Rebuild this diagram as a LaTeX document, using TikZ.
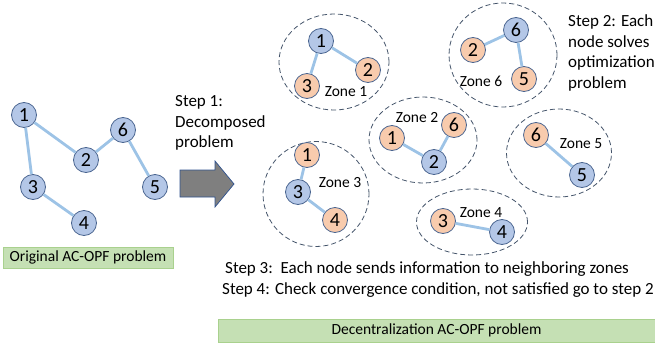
\documentclass[tikz,border=0pt]{standalone}
\usepackage{fontspec}
\setmainfont{Carlito}
\usetikzlibrary{shapes.geometric}
\definecolor{nodeblue}{HTML}{B4C7E7}
\definecolor{nodeorange}{HTML}{F8CBAD}
\definecolor{nodeborder}{HTML}{4A6590}
\definecolor{edgeblue}{HTML}{9DC3E6}
\definecolor{zoneline}{HTML}{44546A}
\definecolor{boxgreen}{HTML}{C5E0B4}
\definecolor{boxgreenline}{HTML}{A9D18E}
\definecolor{arrowgray}{HTML}{7F7F7F}
\definecolor{arrowline}{HTML}{2F528F}
\begin{document}
\begin{tikzpicture}[x=1pt,y=-1pt,
  bus/.style={circle, draw=nodeborder, line width=0.8pt, minimum size=25pt, inner sep=0pt, font=\fontsize{20}{20}\selectfont},
  bb/.style={bus, fill=nodeblue},
  ob/.style={bus, fill=nodeorange},
  link/.style={draw=edgeblue, line width=2.8pt},
  zone/.style={ellipse, draw=zoneline, line width=0.8pt, dash pattern=on 5pt off 3pt, inner sep=0pt},
  lbl/.style={inner sep=0pt, font=\fontsize{17}{20.5}\selectfont},
  zlbl/.style={inner sep=0pt, font=\fontsize{15.5}{18}\selectfont},
  greenbox/.style={draw=boxgreenline, fill=boxgreen, line width=0.6pt, inner sep=0pt, font=\fontsize{15.5}{18}\selectfont}
]
\useasboundingbox (0,0) rectangle (655,350);

% ---------- original network ----------
\node[bb] (o1) at (24,115) {1};
\node[bb] (o2) at (86,160) {2};
\node[bb] (o3) at (33,187) {3};
\node[bb] (o4) at (84,223) {4};
\node[bb] (o5) at (155,187) {5};
\node[bb] (o6) at (123,130) {6};
\draw[link] (o1) -- (o2);
\draw[link] (o1) -- (o3);
\draw[link] (o3) -- (o4);
\draw[link] (o2) -- (o6);
\draw[link] (o6) -- (o5);

\node[greenbox, minimum width=170pt, minimum height=21pt] (orig) at (88,257.5) {Original AC-OPF problem};

% ---------- step 1 and arrow ----------
\node[lbl, align=left, anchor=west] (s1) at (175,123) {Step 1:\\Decomposed\\problem};
\draw[fill=arrowgray, draw=arrowline, line width=0.7pt]
  (180,170) -- (215,170) -- (215,161) -- (234,184) -- (215,207) -- (215,197) -- (180,197) -- cycle;

% ---------- zones ----------
\node[zone, minimum width=110pt, minimum height=96pt] (z1) at (334,62) {};
\node[zone, minimum width=108pt, minimum height=104pt] (z6) at (503,55) {};
\node[zone, minimum width=108pt, minimum height=86pt] (z2) at (423,140) {};
\node[zone, minimum width=106pt, minimum height=105pt] (z3) at (316,194) {};
\node[zone, minimum width=105pt, minimum height=88pt] (z5) at (559,153) {};
\node[zone, minimum width=111pt, minimum height=66pt] (z4) at (472,222) {};

% Zone 1
\node[bb] (z1n1) at (321,41) {1};
\node[ob] (z1n2) at (368,70) {2};
\node[ob] (z1n3) at (307,86) {3};
\draw[link] (z1n1) -- (z1n2);
\draw[link] (z1n1) -- (z1n3);
\node[zlbl] (z1l) at (346,92) {Zone 1};

% Zone 6
\node[bb] (z6n6) at (516,30) {6};
\node[ob] (z6n2) at (473,50) {2};
\node[ob] (z6n5) at (524,79) {5};
\draw[link] (z6n6) -- (z6n2);
\draw[link] (z6n6) -- (z6n5);
\node[zlbl] (z6l) at (481,81) {Zone 6};

% Zone 2
\node[ob] (z2n1) at (392,138) {1};
\node[bb] (z2n2) at (434,162) {2};
\node[ob] (z2n6) at (454,125) {6};
\draw[link] (z2n2) -- (z2n1);
\draw[link] (z2n2) -- (z2n6);
\node[zlbl] (z2l) at (417,118) {Zone 2};

% Zone 3
\node[ob] (z3n1) at (307,155) {1};
\node[bb] (z3n3) at (298,192) {3};
\node[ob] (z3n4) at (335,220) {4};
\draw[link] (z3n3) -- (z3n1);
\draw[link] (z3n3) -- (z3n4);
\node[zlbl] (z3l) at (340,183) {Zone 3};

% Zone 5
\node[ob] (z5n6) at (536,135) {6};
\node[bb] (z5n5) at (582,175) {5};
\draw[link] (z5n5) -- (z5n6);
\node[zlbl] (z5l) at (581,144) {Zone 5};

% Zone 4
\node[ob] (z4n3) at (443,221) {3};
\node[bb] (z4n4) at (502,232) {4};
\draw[link] (z4n4) -- (z4n3);
\node[zlbl] (z4l) at (481,213) {Zone 4};

% ---------- step texts ----------
\node[lbl, align=left, anchor=west] (s2) at (568,53) {Step 2: Each\\node solves\\optimization\\problem};
\node[lbl, anchor=west] (s3) at (225,269) {Step 3:\ \ Each node sends information to neighboring zones};
\node[lbl, anchor=west] (s4) at (222,290) {Step 4: Check convergence condition, not satisfied go to step 2};

\node[greenbox, minimum width=437pt, minimum height=23pt] (dec) at (436.5,330.5) {Decentralization AC-OPF problem};
\end{tikzpicture}
\end{document}
